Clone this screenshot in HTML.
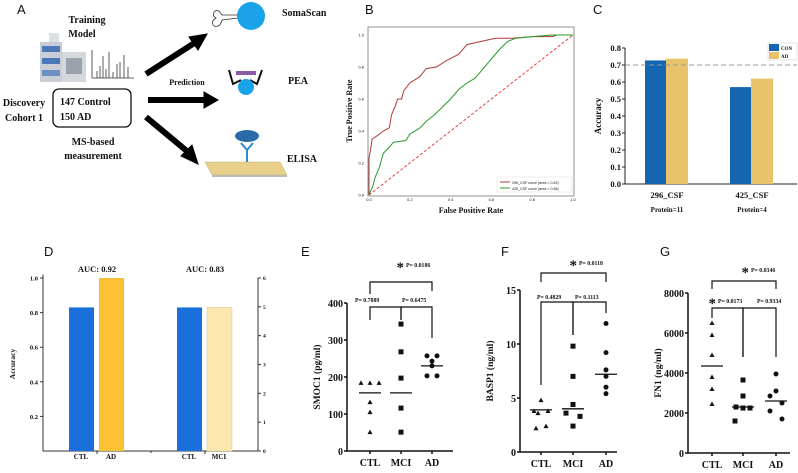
<!DOCTYPE html>
<html><head><meta charset="utf-8">
<style>
html,body{margin:0;padding:0;background:#fff;}
svg{display:block;}
text{font-family:"Liberation Serif",serif;font-weight:bold;fill:#111;}
.sans{font-family:"Liberation Sans",sans-serif;font-weight:normal;}
</style></head>
<body>
<svg id="fig" width="798" height="473" viewBox="0 0 798 473" xmlns="http://www.w3.org/2000/svg">
<g>
<text class="sans" x="17" y="14" font-size="13">A</text>
<text x="87" y="23" font-size="10" text-anchor="middle">Training</text>
<text x="82" y="37" font-size="10" text-anchor="middle">Model</text>
<g>
<rect x="40" y="42" width="22" height="40" fill="#c9cdd6"/><rect x="42" y="46" width="18" height="6" fill="#4b78b8"/><rect x="42" y="58" width="18" height="6" fill="#4b78b8"/><rect x="42" y="70" width="18" height="6" fill="#6c8fc4"/>
<rect x="62" y="52" width="24" height="30" fill="#d5d8dd"/><rect x="66" y="58" width="16" height="16" fill="#9aa3ad"/><rect x="49" y="33" width="10" height="9" fill="#dde0e5"/>
</g>
<g stroke="#333" stroke-width="0.8">
<line x1="92" y1="50" x2="92" y2="78"/><line x1="92" y1="78" x2="134" y2="78"/>
<line x1="97" y1="78" x2="97" y2="71"/><line x1="100" y1="78" x2="100" y2="66"/><line x1="103" y1="78" x2="103" y2="56"/><line x1="106" y1="78" x2="106" y2="69"/><line x1="109" y1="78" x2="109" y2="52"/><line x1="113" y1="78" x2="113" y2="72"/><line x1="117" y1="78" x2="117" y2="64"/><line x1="120" y1="78" x2="120" y2="62"/><line x1="124" y1="78" x2="124" y2="55"/><line x1="128" y1="78" x2="128" y2="67"/>
</g>
<text x="24" y="106" font-size="10" text-anchor="middle">Discovery</text>
<text x="24" y="121" font-size="10" text-anchor="middle">Cohort 1</text>
<rect x="53" y="89" width="78" height="38" rx="6" fill="none" stroke="#111" stroke-width="1.3"/>
<text x="60" y="105" font-size="10">147  Control</text>
<text x="60" y="120" font-size="10">150  AD</text>
<text x="93" y="145" font-size="10" text-anchor="middle">MS-based</text>
<text x="93" y="159" font-size="10" text-anchor="middle">measurement</text>
<g fill="#000" stroke="#000">
<line x1="146" y1="74" x2="196" y2="42" stroke-width="6"/><polygon points="207,34 189,37 198,50" />
<line x1="148" y1="100" x2="205" y2="100" stroke-width="6"/><polygon points="218,100 204,92 204,108"/>
<line x1="146" y1="117" x2="188" y2="152" stroke-width="6"/><polygon points="198,164 181,156 192,145"/>
</g>
<text x="187" y="85" font-size="8" text-anchor="middle">Prediction</text>
<g>
<path d="M238,15 L222,15 Q218,8 214,12 Q212,16 216,18 Q210,22 214,26 Q220,28 222,20 L238,18" fill="none" stroke="#333" stroke-width="0.8"/>
<circle cx="251" cy="16" r="14" fill="#1aa3e8"/>
</g>
<text x="282" y="16" font-size="10">SomaScan</text>
<g>
<rect x="236" y="71" width="20" height="4" fill="#8b5aa8"/>
<path d="M229,70 L233,84 L241,80 M262,70 L257,84 L250,80" fill="none" stroke="#111" stroke-width="2"/>
<circle cx="246" cy="87" r="8" fill="#1aa3e8"/>
</g>
<text x="288" y="84" font-size="10">PEA</text>
<g>
<polygon points="205,162 280,162 287,175 212,175" fill="#e8cf8a" stroke="#c7b070" stroke-width="0.5"/>
<rect x="212" y="175" width="75" height="2" fill="#bbb"/>
<line x1="247" y1="162" x2="247" y2="150" stroke="#2a8cc9" stroke-width="2"/>
<path d="M247,150 L241,143 M247,150 L253,143" stroke="#2a8cc9" stroke-width="2" fill="none"/>
<ellipse cx="247" cy="136" rx="12" ry="6" fill="#2a6aa8"/>
</g>
<text x="287" y="162" font-size="10">ELISA</text>
</g>

<g id="pB">
<text class="sans" x="365" y="14" font-size="13">B</text>
<rect x="368" y="27" width="206" height="169" fill="none" stroke="#777" stroke-width="0.8"/>
<text x="352" y="111" font-size="8" text-anchor="middle" transform="rotate(-90 352 111)">True Positive Rate</text>
<text x="471" y="213" font-size="8" text-anchor="middle">False Positive Rate</text>
<rect x="497" y="177" width="75" height="15" fill="#fff" stroke="#ddd" stroke-width="0.5"/>
<line x1="500" y1="182" x2="510" y2="182" stroke="#b03a3a"/>
<text class="sans" x="512" y="184" font-size="3.6">296_CSF curve (area = 0.83)</text>
<line x1="500" y1="188" x2="510" y2="188" stroke="#2a9a2a"/>
<text class="sans" x="512" y="190" font-size="3.6">425_CSF curve (area = 0.68)</text>
</g>

<g id="pC">
<text class="sans" x="593" y="14" font-size="13">C</text>
<text x="601" y="116" font-size="9" text-anchor="middle" transform="rotate(-90 601 116)">Accuracy</text>
<rect x="768" y="43" width="29" height="17" fill="#fff" stroke="#ccc" stroke-width="0.5"/>
<rect x="769" y="44" width="10" height="7" fill="#1565b0"/>
<text x="781" y="50" font-size="5">CON</text>
<rect x="769" y="52" width="10" height="7" fill="#e9c36b"/>
<text x="781" y="58" font-size="5">AD</text>
</g>

<g id="pD">
<text class="sans" x="44" y="256" font-size="13">D</text>
<text x="15" y="364" font-size="7.5" text-anchor="middle" transform="rotate(-90 15 364)">Accuracy</text>
</g>

<g id="pE"><text class="sans" x="301" y="256" font-size="13">E</text></g>
<g id="pF"><text class="sans" x="501" y="256" font-size="13">F</text></g>
<g id="pG"><text class="sans" x="660" y="256" font-size="13">G</text></g>
</svg>
<script>
const rocRedFpr = [0,0,0.01,0.015,0.04,0.07,0.1,0.11,0.13,0.14,0.16,0.17,0.2,0.25,0.28,0.33,0.38,0.44,0.48,0.55,0.62,0.7,0.8,0.9,0.92,1];
const rocRedTpr = [0,0.23,0.3,0.35,0.37,0.4,0.42,0.5,0.56,0.6,0.6,0.65,0.7,0.74,0.79,0.8,0.84,0.88,0.94,0.96,0.98,0.98,0.99,0.99,1,1];
const rocGreenFpr = [0,0.02,0.03,0.05,0.07,0.1,0.12,0.18,0.2,0.25,0.28,0.32,0.36,0.4,0.44,0.48,0.52,0.56,0.6,0.64,0.68,0.72,0.8,0.9,1];
const rocGreenTpr = [0,0.06,0.11,0.17,0.26,0.3,0.33,0.34,0.38,0.42,0.46,0.5,0.55,0.6,0.66,0.7,0.73,0.79,0.85,0.91,0.96,0.98,0.99,1,1];
const rocTicks = ["0.0","0.2","0.4","0.6","0.8","1.0"];
const cGroups = ["296_CSF","425_CSF"];
const cSub = ["Protein=11","Protein=4"];
const cCon = [0.727,0.57];
const cAd = [0.737,0.62];
const cTicks = ["0.0","0.1","0.2","0.3","0.4","0.5","0.6","0.7","0.8"];
const dCats = ["CTL","AD","CTL","MCI"];
const dVals = [0.83,1.0,0.83,0.83];
const dAuc = ["AUC: 0.92","AUC: 0.83"];
const dTicks = ["0.2","0.4","0.6","0.8","1.0"];
const dRightTicks = ["0","1","2","3","4","5","6"];
const groups = ["CTL","MCI","AD"];
const eCTL=[184,184,184,132,105,51], eMCI=[343,268,197,116,51], eAD=[257,257,243,230,203,203];
const eMed=[157,157,230];
const eTicks=[0,100,200,300,400];
const fCTL=[4.8,3.8,3.8,3.6,2.2,2.4], fMCI=[9.8,7.0,4.4,3.6,3.3,2.4], fAD=[11.9,9.2,7.6,7.0,6.0,5.4];
const fMed=[3.9,4.0,7.2];
const fTicks=[0,5,10,15];
const gCTL=[6500,5900,4900,3800,3200,2450], gMCI=[3650,2850,2300,2250,2250,1600], gAD=[3950,3100,2850,2500,2100,1700];
const gMed=[4350,2300,2600];
const gTicks=[0,2000,4000,6000,8000];

const NS="http://www.w3.org/2000/svg";
function mk(parent,tag,attrs,txt){const e=document.createElementNS(NS,tag);for(const k in attrs)e.setAttribute(k,attrs[k]);if(txt!==undefined)e.textContent=txt;parent.appendChild(e);return e;}

(function(){
const g=document.getElementById('pB');
const x=v=>369+v*204, y=v=>195-v*160;
rocTicks.forEach((t,i)=>{const v=i*0.2;
 let a=mk(g,'text',{x:x(v),y:201,'font-size':4,'text-anchor':'middle',class:'sans'},t);
 
 
 let b=mk(g,'text',{x:364,y:y(v)+1.5,'font-size':4,'text-anchor':'end',class:'sans'},t);
 
 
});
let d=mk(g,'line',{x1:x(0),y1:y(0),x2:x(1),y2:y(1),stroke:'#e03030','stroke-dasharray':'3,2','stroke-width':0.9});


let pr=mk(g,'polyline',{points:rocRedFpr.map((f,i)=>x(f)+','+y(rocRedTpr[i])).join(' '),fill:'none',stroke:'#b03a3a','stroke-width':1});


let pg=mk(g,'polyline',{points:rocGreenFpr.map((f,i)=>x(f)+','+y(rocGreenTpr[i])).join(' '),fill:'none',stroke:'#2a9a2a','stroke-width':1});


})();

(function(){
const g=document.getElementById('pC');
const y=v=>184-v*170;
mk(g,'line',{x1:625,y1:y(0),x2:797,y2:y(0),stroke:'#222','stroke-width':1});
mk(g,'line',{x1:625,y1:y(0.8),x2:625,y2:y(0),stroke:'#222','stroke-width':1});
cTicks.forEach((t,i)=>{const v=i*0.1;
 mk(g,'line',{x1:622,y1:y(v),x2:625,y2:y(v),stroke:'#222'});
 let a=mk(g,'text',{x:621,y:y(v)+3,'font-size':8.5,'text-anchor':'end'},t);
 
 
});
const cx=[667,752];
cGroups.forEach((n,i)=>{
 let b1=mk(g,'rect',{x:cx[i]-22,y:y(cCon[i]),width:21,height:y(0)-y(cCon[i]),fill:'#1565b0'});
 
 
 let b2=mk(g,'rect',{x:cx[i]-1,y:y(cAd[i]),width:22,height:y(0)-y(cAd[i]),fill:'#e9c36b'});
 
 
 let l=mk(g,'text',{x:cx[i],y:198,'font-size':8.5,'text-anchor':'middle'},n);
 
 
 let s=mk(g,'text',{x:cx[i],y:212,'font-size':7,'text-anchor':'middle'},cSub[i]);
 
 
});
let dl=mk(g,'line',{x1:625,y1:y(0.7),x2:797,y2:y(0.7),stroke:'#999','stroke-dasharray':'5,3'});


})();

(function(){
const g=document.getElementById('pD');
const y=v=>451-v*173;
const yr=v=>451-v*173/6;
mk(g,'line',{x1:43,y1:y(0),x2:258,y2:y(0),stroke:'#333'});
mk(g,'line',{x1:43,y1:y(1.02),x2:43,y2:y(0),stroke:'#333'});
mk(g,'line',{x1:258,y1:y(1.0),x2:258,y2:y(0),stroke:'#333'});
dTicks.forEach(t=>{const v=+t;
 mk(g,'line',{x1:40,y1:y(v),x2:43,y2:y(v),stroke:'#333'});
 let a=mk(g,'text',{x:38,y:y(v)+2.5,'font-size':6.5,'text-anchor':'end'},t);
 
 
});
dRightTicks.forEach(t=>{
 mk(g,'line',{x1:258,y1:yr(+t),x2:261,y2:yr(+t),stroke:'#333'});
 let a=mk(g,'text',{x:263,y:yr(+t)+2,'font-size':5.5,'text-anchor':'start'},t);
 
 
});
const xs=[69,99,177,207], cols=['#1a6fdc','#f8c232','#1a6fdc','#fde7b0'];
dCats.forEach((c,i)=>{
 let r=mk(g,'rect',{x:xs[i],y:y(dVals[i]),width:25,height:y(0)-y(dVals[i]),fill:cols[i],stroke:i==3?'#d8c590':'none','stroke-width':0.5});
 
 
 let l=mk(g,'text',{x:xs[i]+12,y:459,'font-size':7,'text-anchor':'middle'},c);
 
 
});
mk(g,'line',{x1:97,y1:451,x2:97,y2:454,stroke:'#333'});mk(g,'line',{x1:205,y1:451,x2:205,y2:454,stroke:'#333'});
mk(g,'line',{x1:151,y1:451,x2:151,y2:453,stroke:'#333'});
dAuc.forEach((t,i)=>{
 let a=mk(g,'text',{x:[97,205][i],y:272,'font-size':8.5,'text-anchor':'middle'},t);
 
 
});
})();

function scatter(id,cfg){
const g=document.getElementById(id);
const y=v=>cfg.y0-(v/cfg.max)*(cfg.y0-cfg.yTop);
mk(g,'line',{x1:cfg.ax,y1:cfg.y0,x2:cfg.axEnd,y2:cfg.y0,stroke:'#111','stroke-width':1.5});
mk(g,'line',{x1:cfg.ax,y1:cfg.yTop,x2:cfg.ax,y2:cfg.y0,stroke:'#111','stroke-width':1.5});
cfg.ticks.forEach(t=>{
 mk(g,'line',{x1:cfg.ax-3,y1:y(t),x2:cfg.ax,y2:y(t),stroke:'#111','stroke-width':1.5});
 let a=mk(g,'text',{x:cfg.ax-4,y:y(t)+4,'font-size':10,'text-anchor':'end'},String(t));
 
 
});
let yt=mk(g,'text',{x:cfg.ax-27,y:(cfg.y0+cfg.yTop)/2,'font-size':9.5,'text-anchor':'middle',transform:`rotate(-90 ${cfg.ax-27} ${(cfg.y0+cfg.yTop)/2})`},cfg.title);


groups.forEach((gr,i)=>{
 const x=cfg.xs[i];
 mk(g,'line',{x1:x,y1:cfg.y0,x2:x,y2:cfg.y0+3,stroke:'#111','stroke-width':1.5});
 let l=mk(g,'text',{x:x,y:cfg.y0+15,'font-size':10,'text-anchor':'middle'},gr);
 
 
 const vals=cfg.data[i];
 vals.forEach((v,j)=>{
  const off=(cfg.offs[i][j]||0);
  const px=x+off, py=y(v); let m;
  if(i==0) m=mk(g,'polygon',{points:`${px},${py-2.5} ${px-2.5},${py+2} ${px+2.5},${py+2}`,fill:'#111'});
  else if(i==1) m=mk(g,'rect',{x:px-2.5,y:py-2.5,width:5,height:5,fill:'#111'});
  else m=mk(g,'circle',{cx:px,cy:py,r:2.5,fill:'#111'});
  
  
 });
 let md=mk(g,'line',{x1:x-11,y1:y(cfg.med[i]),x2:x+11,y2:y(cfg.med[i]),stroke:'#111','stroke-width':1.3});
 
 
});
cfg.brackets.forEach(b=>{
 let p=mk(g,'path',{d:`M${cfg.xs[b.a]},${b.la} L${cfg.xs[b.a]},${b.y} L${cfg.xs[b.b]},${b.y} L${cfg.xs[b.b]},${b.lb}`,fill:'none',stroke:'#111','stroke-width':1.2});
 
 
 if(b.star){let s=mk(g,'text',{x:b.tx-2,y:b.ty+5,'font-size':15,'text-anchor':'end'},'*');
  
  }
 let t=mk(g,'text',{x:b.tx,y:b.ty,'font-size':5.8,'text-anchor':'start'},b.label);
 
 
});
}
scatter('pE',{ax:347,axEnd:453,y0:451,yTop:303,max:400,ticks:eTicks,title:'SMOC1 (pg/ml)',xs:[370,401,432],
 data:[eCTL,eMCI,eAD],med:eMed,offs:[[-9,0,9,0,0,0],[0,0,0,0,0],[-5,5,0,0,-5,5]],
 brackets:[{a:0,b:2,y:282,la:294,lb:291,star:true,tx:406,ty:267,label:'P= 0.0186'},
 {a:0,b:1,y:307,la:320,lb:320,star:false,tx:355,ty:302,label:'P= 0.7889'},
 {a:1,b:2,y:307,la:320,lb:338,star:false,tx:402,ty:302,label:'P= 0.6475'}]});
scatter('pF',{ax:520,axEnd:617,y0:452,yTop:290,max:15,ticks:fTicks,title:'BASP1 (ng/ml)',xs:[541,573,606],
 data:[fCTL,fMCI,fAD],med:fMed,offs:[[0,-7,7,-3,-5,5],[0,0,0,-7,7,0],[0,0,0,0,0,0]],
 brackets:[{a:0,b:2,y:273,la:282,lb:282,star:true,tx:579,ty:265,label:'P= 0.0118'},
 {a:0,b:1,y:302,la:385,lb:335,star:false,tx:537,ty:299,label:'P= 0.4829'},
 {a:1,b:2,y:302,la:335,lb:313,star:false,tx:575,ty:299,label:'P= 0.1113'}]});
scatter('pG',{ax:688,axEnd:790,y0:453,yTop:293,max:8000,ticks:gTicks,title:'FN1 (ng/ml)',xs:[712,743,776],
 data:[gCTL,gMCI,gAD],med:gMed,offs:[[0,0,0,0,0,0],[0,0,-7,7,0,-8],[0,0,-6,6,-6,6]],
 brackets:[{a:0,b:2,y:281,la:289,lb:289,star:true,tx:751,ty:272,label:'P= 0.0346'},
 {a:0,b:1,y:308,la:318,lb:357,star:true,tx:718,ty:303,label:'P= 0.0173'},
 {a:1,b:2,y:308,la:357,lb:357,star:false,tx:757,ty:303,label:'P= 0.9334'}]});
</script>
</body></html>
